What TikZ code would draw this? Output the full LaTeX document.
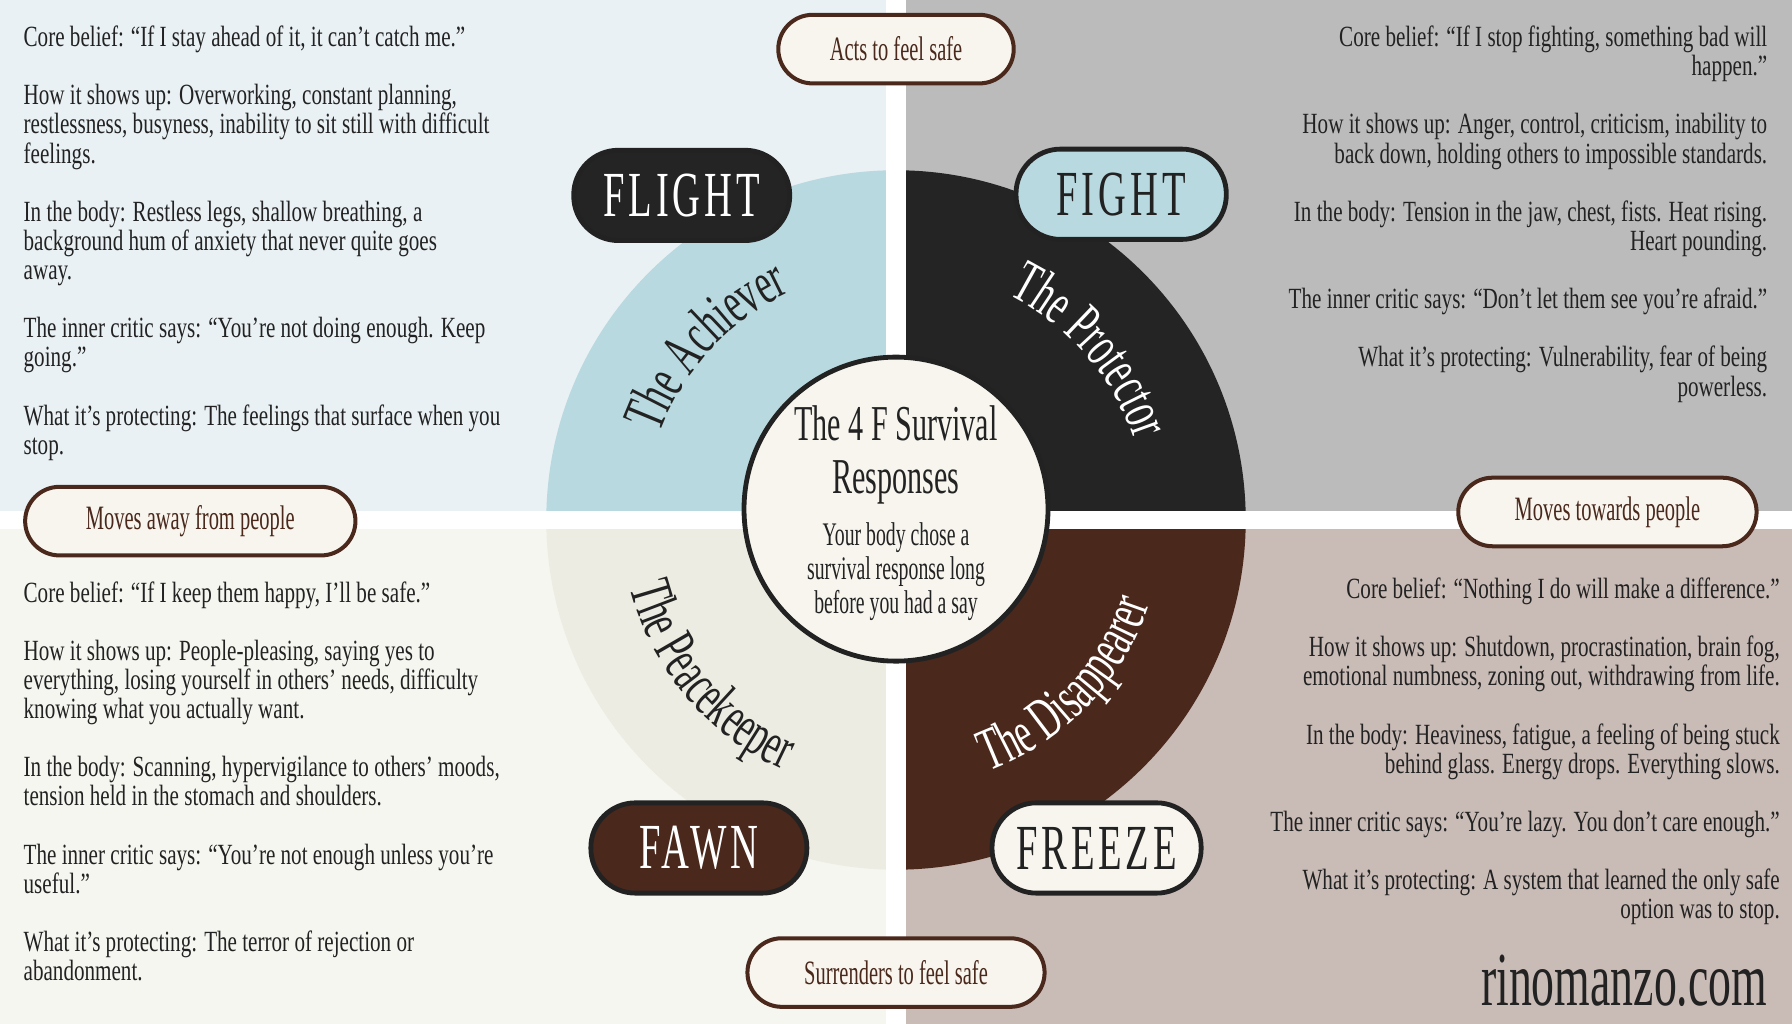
\documentclass[tikz,border=0pt]{standalone}
\usepackage{fontspec}
\setmainfont{Liberation Serif}[FakeStretch=0.72]
\newfontfamily\narrowfont{Liberation Serif}[FakeStretch=0.6]
\usetikzlibrary{decorations.text}
\definecolor{bgTL}{HTML}{E9F1F4}
\definecolor{bgTR}{HTML}{BBBBBB}
\definecolor{bgBL}{HTML}{F6F6F1}
\definecolor{bgBR}{HTML}{C9BBB6}
\definecolor{sTL}{HTML}{B8D9DF}
\definecolor{sTR}{HTML}{242424}
\definecolor{sBL}{HTML}{EDECE2}
\definecolor{sBR}{HTML}{4A281C}
\definecolor{ink}{HTML}{222222}
\definecolor{cream}{HTML}{F7F5EE}
\tikzset{
  body/.style={inner sep=0pt, font=\fontsize{7.3}{7.25}\selectfont, text=ink},
  bigpill/.style={draw=ink, line width=1.2pt, rounded corners=0.39cm, minimum height=0.79cm, font=\narrowfont\fontsize{16}{16}\selectfont\addfontfeature{LetterSpace=6}},
  smallpill/.style={draw=sBR, line width=1pt, fill=cream, rounded corners=0.3cm, minimum height=0.6cm, text=sBR, font=\narrowfont\fontsize{8.5}{8.5}\selectfont},
}
\begin{document}
\begin{tikzpicture}
\useasboundingbox (0,0) rectangle (15.68,8.96);
\fill[bgTL] (0,4.41) rectangle (7.84,8.96);
\fill[bgTR] (7.84,4.41) rectangle (15.68,8.96);
\fill[bgBL] (0,0) rectangle (7.84,4.41);
\fill[bgBR] (7.84,0) rectangle (15.68,4.41);
\coordinate (C) at (7.84,4.41);
\fill[sTL] (C) -- ++(180:3.06) arc (180:90:3.06) -- cycle;
\fill[sTR] (C) -- ++(90:3.06) arc (90:0:3.06) -- cycle;
\fill[sBL] (C) -- ++(180:3.06) arc (180:270:3.06) -- cycle;
\fill[sBR] (C) -- ++(0:3.06) arc (0:-90:3.06) -- cycle;
\fill[white] (7.75,0) rectangle (7.93,8.96);
\fill[white] (0,4.33) rectangle (15.68,4.49);
% curved labels
\path[decorate, decoration={text along path, text align=center, text={|\narrowfont\fontsize{15}{15}\selectfont\color{ink}|The Achiever}}] (C) ++(175:2.2) arc (175:100:2.2);
\path[decorate, decoration={text along path, text align=center, text={|\narrowfont\fontsize{15}{15}\selectfont\color{white}|The Protector}}] (C) ++(82:2.2) arc (82:0:2.2);
\path[decorate, decoration={text along path, text align=center, text={|\narrowfont\fontsize{15}{15}\selectfont\color{ink}|The Peacekeeper}}] (C) ++(176:2.4) arc (176:264:2.4);
\path[decorate, decoration={text along path, text align=center, text={|\narrowfont\fontsize{15}{15}\selectfont\color{white}|The Disappearer}}] (C) ++(-86:2.34) arc (-86:-2:2.34);
% center
\node[circle, draw=ink, line width=1.2pt, fill=cream, minimum size=2.66cm] (center) at (7.84,4.505) {};
\node[text=ink, align=center, font=\narrowfont\fontsize{12.5}{13}\selectfont] (title) at (7.84,4.98) {The 4 F Survival\\Responses};
\node[text=ink, align=center, font=\narrowfont\fontsize{8.2}{7.3}\selectfont] (sub) at (7.84,3.96) {Your body chose a\\survival response long\\before you had a say};
% big pills
\node[bigpill, fill=sTR, text=white, minimum width=1.89cm] (flight) at (5.965,7.25) {FLIGHT};
\node[bigpill, fill=sTL, text=ink, minimum width=1.84cm] (fight) at (9.81,7.26) {FIGHT};
\node[bigpill, fill=sBR, text=white, minimum width=1.89cm] (fawn) at (6.115,1.54) {FAWN};
\node[bigpill, fill=cream, text=ink, minimum width=1.83cm] (freeze) at (9.595,1.54) {FREEZE};
% small pills
\node[smallpill, minimum width=2.06cm] (acts) at (7.84,8.53) {Acts to feel safe};
\node[smallpill, minimum width=2.89cm] (away) at (1.665,4.40) {Moves away from people};
\node[smallpill, minimum width=2.61cm] (towards) at (14.065,4.48) {Moves towards people};
\node[smallpill, minimum width=2.60cm] (surr) at (7.84,0.45) {Surrenders to feel safe};
% text blocks
\node[body, anchor=north west, align=left] (tl) at (0.20,8.74) {Core belief: ``If I stay ahead of it, it can't catch me.''\\[7.25pt]
How it shows up: Overworking, constant planning,\\restlessness, busyness, inability to sit still with difficult\\feelings.\\[7.25pt]
In the body: Restless legs, shallow breathing, a\\background hum of anxiety that never quite goes\\away.\\[7.25pt]
The inner critic says: ``You're not doing enough. Keep\\going.''\\[7.25pt]
What it's protecting: The feelings that surface when you\\stop.};
\node[body, anchor=north east, align=right] (tr) at (15.47,8.74) {Core belief: ``If I stop fighting, something bad will\\happen.''\\[7.25pt]
How it shows up: Anger, control, criticism, inability to\\back down, holding others to impossible standards.\\[7.25pt]
In the body: Tension in the jaw, chest, fists. Heat rising.\\Heart pounding.\\[7.25pt]
The inner critic says: ``Don't let them see you're afraid.''\\[7.25pt]
What it's protecting: Vulnerability, fear of being\\powerless.};
\node[body, anchor=north west, align=left] (bl) at (0.20,3.88) {Core belief: ``If I keep them happy, I'll be safe.''\\[7.25pt]
How it shows up: People-pleasing, saying yes to\\everything, losing yourself in others' needs, difficulty\\knowing what you actually want.\\[7.25pt]
In the body: Scanning, hypervigilance to others' moods,\\tension held in the stomach and shoulders.\\[7.25pt]
The inner critic says: ``You're not enough unless you're\\useful.''\\[7.25pt]
What it's protecting: The terror of rejection or\\abandonment.};
\node[body, anchor=north east, align=right] (br) at (15.58,3.91) {Core belief: ``Nothing I do will make a difference.''\\[7.25pt]
How it shows up: Shutdown, procrastination, brain fog,\\emotional numbness, zoning out, withdrawing from life.\\[7.25pt]
In the body: Heaviness, fatigue, a feeling of being stuck\\behind glass. Energy drops. Everything slows.\\[7.25pt]
The inner critic says: ``You're lazy. You don't care enough.''\\[7.25pt]
What it's protecting: A system that learned the only safe\\option was to stop.};
\node[anchor=east, text=ink, font=\narrowfont\fontsize{19}{19}\selectfont, inner sep=0pt] (url) at (15.47,0.38) {rinomanzo.com};
\end{tikzpicture}
\end{document}
